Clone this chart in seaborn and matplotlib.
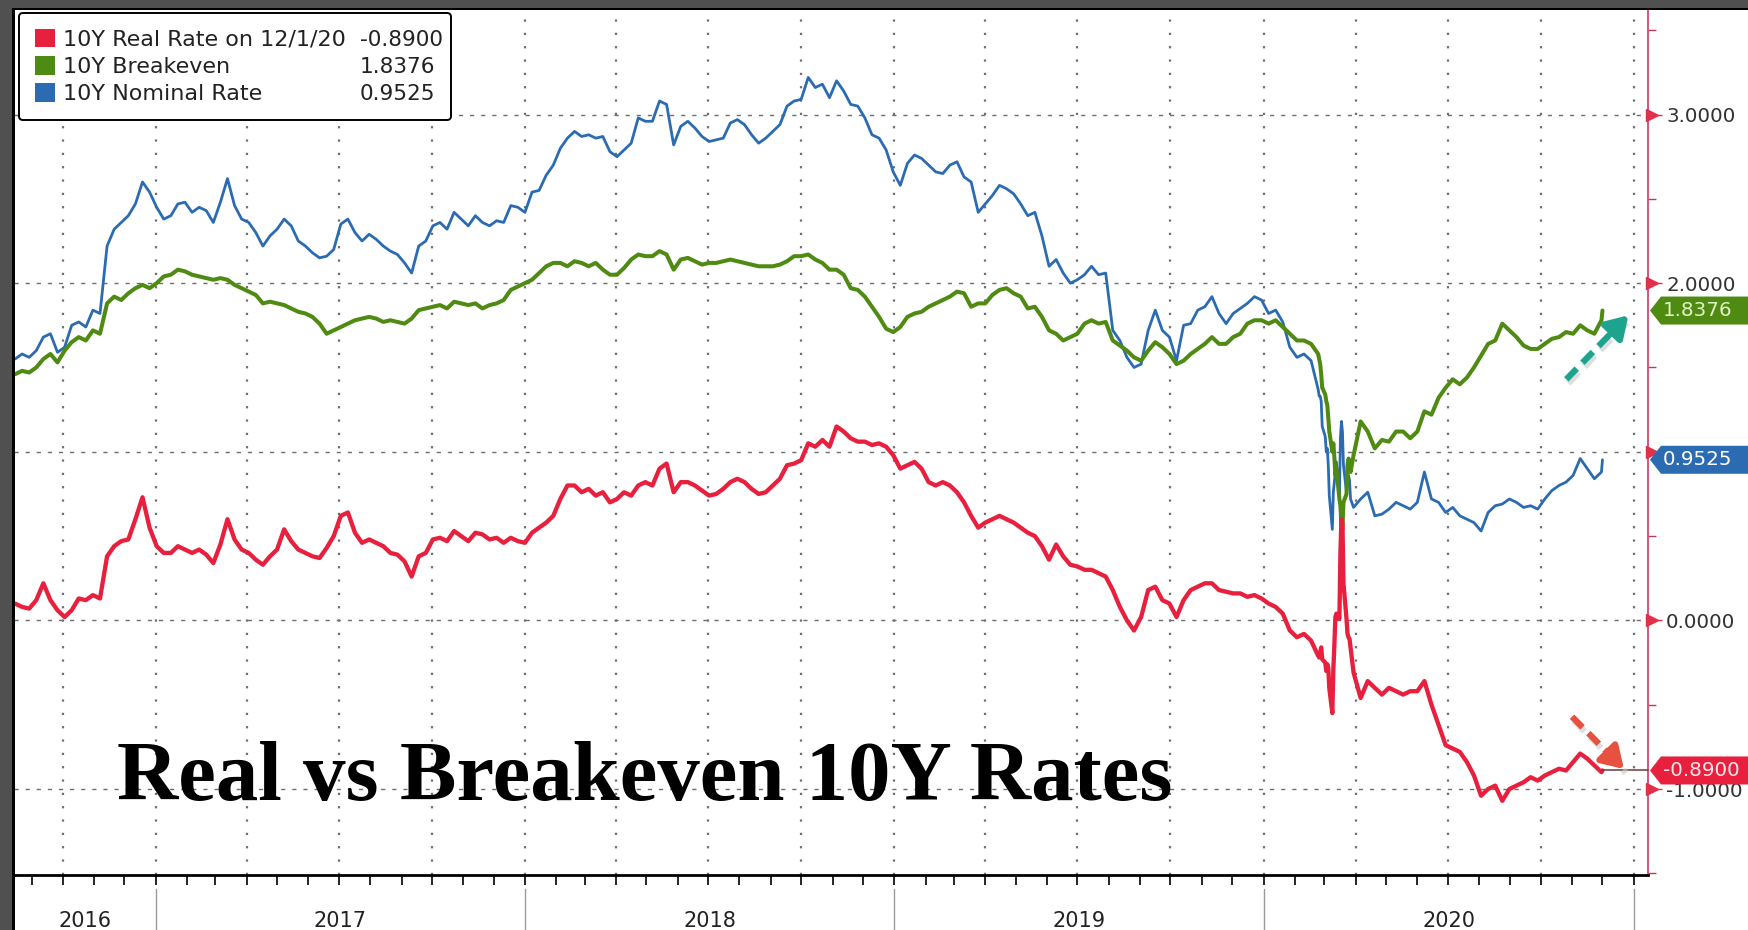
import numpy as np
import pandas as pd
import matplotlib
matplotlib.use("Agg")
import matplotlib.pyplot as plt
import matplotlib.dates as mdates
import matplotlib.transforms as mtransforms
from matplotlib.ticker import NullFormatter
from matplotlib.patches import Patch, Rectangle, Polygon
import seaborn as sns

# ---------------- data ----------------
series_names = ["10Y Real Rate on 12/1/20", "10Y Breakeven", "10Y Nominal Rate"]
series_last = ["-0.8900", "1.8376", "0.9525"]
year_labels = ["2016", "2017", "2018", "2019", "2020"]
ytick_values = [-1, 0, 1, 2, 3]
ytick_labels = ["-1.0000", "0.0000", "", "2.0000", "3.0000"]

# weekly (Mondays) 2016-08-15 .. 2020-02-17
nominal_pre = [
    1.55, 1.58, 1.56,
    1.60, 1.68, 1.70, 1.59,
    1.62, 1.75, 1.77, 1.74, 1.84,
    1.82, 2.22, 2.32, 2.36,
    2.40, 2.47, 2.60, 2.54,
    2.45, 2.38, 2.40, 2.47, 2.48,
    2.42, 2.45, 2.43, 2.36,
    2.48, 2.62, 2.46, 2.38,
    2.36, 2.30, 2.22, 2.28,
    2.32, 2.38, 2.34, 2.25, 2.22,
    2.18, 2.15, 2.16, 2.20,
    2.35, 2.38, 2.30, 2.25, 2.29,
    2.26, 2.22, 2.19, 2.17,
    2.12, 2.06, 2.22, 2.25,
    2.34, 2.36, 2.32, 2.42, 2.38,
    2.34, 2.40, 2.36, 2.34,
    2.37, 2.36, 2.46, 2.45,
    2.42, 2.54, 2.55, 2.64, 2.70,
    2.80, 2.86, 2.90, 2.87,
    2.88, 2.86, 2.87, 2.78,
    2.75, 2.79, 2.83, 2.98, 2.96,
    2.96, 3.08, 3.06, 2.82,
    2.93, 2.96, 2.92, 2.87,
    2.84, 2.85, 2.86, 2.95, 2.97,
    2.94, 2.88, 2.83, 2.86,
    2.90, 2.94, 3.05, 3.08,
    3.09, 3.22, 3.16, 3.18, 3.10,
    3.20, 3.14, 3.06, 3.05,
    2.98, 2.88, 2.86, 2.79, 2.66,
    2.58, 2.71, 2.76, 2.74,
    2.70, 2.66, 2.65, 2.70,
    2.72, 2.63, 2.60, 2.42,
    2.47, 2.52, 2.58, 2.56, 2.53,
    2.47, 2.40, 2.42, 2.28,
    2.10, 2.14, 2.06, 2.00,
    2.02, 2.05, 2.10, 2.05, 2.06,
    1.72, 1.66, 1.56, 1.50,
    1.52, 1.72, 1.84, 1.72, 1.68,
    1.54, 1.75, 1.76, 1.84,
    1.86, 1.92, 1.82, 1.76,
    1.82, 1.85, 1.88, 1.92, 1.90,
    1.82, 1.84, 1.77, 1.62,
    1.56, 1.58, 1.54,
]
breakeven_pre = [
    1.46, 1.48, 1.47,
    1.50, 1.55, 1.58, 1.53,
    1.60, 1.65, 1.68, 1.66, 1.72,
    1.70, 1.88, 1.92, 1.90,
    1.94, 1.97, 1.99, 1.97,
    2.00, 2.04, 2.05, 2.08, 2.07,
    2.05, 2.04, 2.03, 2.02,
    2.03, 2.02, 1.99, 1.97,
    1.95, 1.93, 1.88, 1.89,
    1.88, 1.87, 1.85, 1.83, 1.82,
    1.80, 1.76, 1.70, 1.72,
    1.74, 1.76, 1.78, 1.79, 1.80,
    1.79, 1.77, 1.78, 1.77,
    1.76, 1.79, 1.84, 1.85,
    1.86, 1.87, 1.85, 1.89, 1.88,
    1.87, 1.88, 1.85, 1.87,
    1.88, 1.90, 1.96, 1.98,
    2.00, 2.02, 2.06, 2.10, 2.12,
    2.12, 2.10, 2.13, 2.12,
    2.10, 2.12, 2.08, 2.05,
    2.05, 2.09, 2.14, 2.17, 2.16,
    2.16, 2.19, 2.17, 2.08,
    2.14, 2.15, 2.13, 2.11,
    2.12, 2.12, 2.13, 2.14, 2.13,
    2.12, 2.11, 2.10, 2.10,
    2.10, 2.11, 2.13, 2.16,
    2.16, 2.17, 2.14, 2.12, 2.08,
    2.08, 2.05, 1.97, 1.96,
    1.92, 1.86, 1.80, 1.73, 1.71,
    1.74, 1.80, 1.82, 1.83,
    1.86, 1.88, 1.90, 1.92,
    1.95, 1.94, 1.86, 1.88,
    1.88, 1.93, 1.96, 1.97, 1.94,
    1.92, 1.85, 1.86, 1.80,
    1.72, 1.70, 1.66, 1.68,
    1.70, 1.76, 1.78, 1.76, 1.77,
    1.66, 1.63, 1.60, 1.56,
    1.54, 1.60, 1.65, 1.62, 1.58,
    1.52, 1.54, 1.58, 1.61,
    1.64, 1.68, 1.64, 1.64,
    1.68, 1.70, 1.76, 1.78, 1.78,
    1.76, 1.78, 1.74, 1.70,
    1.66, 1.66, 1.64,
]
real_pre = [
    0.10, 0.08, 0.07,
    0.12, 0.22, 0.12, 0.06,
    0.02, 0.06, 0.13, 0.12, 0.15,
    0.13, 0.38, 0.44, 0.47,
    0.48, 0.60, 0.73, 0.55,
    0.44, 0.40, 0.40, 0.44, 0.42,
    0.40, 0.42, 0.39, 0.34,
    0.45, 0.60, 0.48, 0.42,
    0.40, 0.36, 0.33, 0.38,
    0.42, 0.54, 0.47, 0.42, 0.40,
    0.38, 0.37, 0.43, 0.50,
    0.62, 0.64, 0.52, 0.46, 0.48,
    0.46, 0.44, 0.40, 0.39,
    0.35, 0.26, 0.38, 0.40,
    0.48, 0.49, 0.47, 0.53, 0.50,
    0.47, 0.52, 0.51, 0.48,
    0.49, 0.46, 0.49, 0.47,
    0.46, 0.52, 0.55, 0.58, 0.62,
    0.72, 0.80, 0.80, 0.76,
    0.78, 0.74, 0.76, 0.70,
    0.72, 0.76, 0.74, 0.80, 0.82,
    0.80, 0.90, 0.93, 0.76,
    0.82, 0.82, 0.80, 0.77,
    0.74, 0.75, 0.78, 0.82, 0.84,
    0.82, 0.78, 0.75, 0.76,
    0.80, 0.84, 0.92, 0.93,
    0.95, 1.05, 1.03, 1.07, 1.03,
    1.15, 1.12, 1.08, 1.06,
    1.06, 1.04, 1.05, 1.03, 0.98,
    0.90, 0.92, 0.94, 0.90,
    0.82, 0.80, 0.82, 0.80,
    0.76, 0.70, 0.62, 0.55,
    0.58, 0.60, 0.62, 0.60, 0.58,
    0.55, 0.52, 0.50, 0.44,
    0.36, 0.45, 0.38, 0.33,
    0.32, 0.30, 0.30, 0.28, 0.26,
    0.18, 0.08, 0.00, -0.06,
    0.02, 0.18, 0.20, 0.12, 0.10,
    0.02, 0.12, 0.18, 0.20,
    0.22, 0.22, 0.18, 0.17,
    0.16, 0.16, 0.14, 0.15, 0.13,
    0.10, 0.08, 0.04, -0.06,
    -0.10, -0.08, -0.12,
]

# business days 2020-02-24 .. 2020-03-27
nominal_covid = [1.37, 1.33, 1.33, 1.30, 1.15, 1.09, 1.00, 1.02, 0.92, 0.74,
                 0.54, 0.76, 0.82, 0.88, 0.94, 0.73, 1.08, 1.18, 1.12, 0.92,
                 0.76, 0.84, 0.86, 0.83, 0.72]
breakeven_covid = [1.58, 1.55, 1.52, 1.46, 1.38, 1.34, 1.30, 1.28, 1.20, 1.12,
                   1.00, 1.05, 0.97, 0.86, 0.90, 0.72, 0.68, 0.56, 0.54, 0.70,
                   0.75, 0.92, 0.96, 0.94, 0.88]
real_covid = [-0.21, -0.22, -0.19, -0.16, -0.23, -0.25, -0.30, -0.26, -0.28, -0.40,
              -0.55, -0.29, -0.15, 0.02, 0.04, 0.01, 0.40, 0.60, 0.58, 0.22,
              0.01, -0.08, -0.10, -0.11, -0.16]

# weekly (Mondays) 2020-03-30 .. 2020-11-30, then 2020-12-01
nominal_post = [0.67, 0.72, 0.76, 0.62, 0.63, 0.66, 0.70, 0.68, 0.66,
                0.70, 0.88, 0.72, 0.70, 0.64, 0.67, 0.62, 0.60, 0.58,
                0.53, 0.64, 0.68, 0.69, 0.72, 0.70, 0.67, 0.68, 0.66,
                0.72, 0.77, 0.80, 0.82, 0.86, 0.96, 0.90, 0.84, 0.88, 0.9525]
breakeven_post = [0.98, 1.18, 1.12, 1.02, 1.07, 1.06, 1.12, 1.12, 1.08,
                  1.12, 1.24, 1.22, 1.32, 1.38, 1.43, 1.40, 1.44, 1.50,
                  1.57, 1.64, 1.66, 1.76, 1.72, 1.68, 1.63, 1.61, 1.61,
                  1.64, 1.67, 1.68, 1.71, 1.70, 1.75, 1.72, 1.70, 1.78, 1.8376]
real_post = [-0.31, -0.46, -0.36, -0.40, -0.44, -0.40, -0.42, -0.44, -0.42,
             -0.42, -0.36, -0.50, -0.62, -0.74, -0.76, -0.78, -0.84, -0.92,
             -1.04, -1.00, -0.98, -1.07, -1.00, -0.98, -0.96, -0.93, -0.95,
             -0.92, -0.90, -0.88, -0.89, -0.84, -0.79, -0.82, -0.86, -0.90, -0.89]


def make_dates(pre, covid, post):
    d1 = pd.date_range("2016-08-15", periods=len(pre), freq="7D")
    d2 = pd.bdate_range("2020-02-24", periods=len(covid))
    d3 = pd.date_range("2020-03-30", periods=len(post) - 1, freq="7D").append(
        pd.DatetimeIndex(["2020-12-01"]))
    return d1.append(d2).append(d3)


nominal = np.concatenate([nominal_pre, nominal_covid, nominal_post])
breakeven = np.concatenate([breakeven_pre, breakeven_covid, breakeven_post])
real = np.concatenate([real_pre, real_covid, real_post])
d_nom = make_dates(nominal_pre, nominal_covid, nominal_post)
d_be = make_dates(breakeven_pre, breakeven_covid, breakeven_post)
d_real = make_dates(real_pre, real_covid, real_post)

RED = "#e8203e"
GREEN = "#4f8b12"
BLUE = "#2b6bb2"
colors = [RED, GREEN, BLUE]

# ---------------- figure ----------------
sns.set_style("white")
plt.rcParams["font.family"] = ["DejaVu Sans"]

W, H = 1748, 930
fig = plt.figure(figsize=(W / 100, H / 100), dpi=100)
fig.patch.set_facecolor("white")

AX_L, AX_R, AX_T, AX_B = 14, 1648, 10, 875
ax = fig.add_axes([AX_L / W, 1 - AX_B / H, (AX_R - AX_L) / W, (AX_B - AX_T) / H])
ax.set_facecolor("white")

# dark screenshot frame (left and top)
fig.add_artist(Rectangle((0, 0), 12 / W, 1, transform=fig.transFigure,
                         facecolor="#505050", edgecolor="none", zorder=20))
fig.add_artist(Rectangle((0, 1 - 8 / H), 1, 8 / H, transform=fig.transFigure,
                         facecolor="#505050", edgecolor="none", zorder=20))
fig.add_artist(Rectangle((12 / W, 0), 2.5 / W, 1 - 8 / H, transform=fig.transFigure,
                         facecolor="black", edgecolor="none", zorder=21))
fig.add_artist(Rectangle((12 / W, 1 - 10.5 / H), 1, 2.5 / H, transform=fig.transFigure,
                         facecolor="black", edgecolor="none", zorder=21))

# lines
sns.lineplot(x=d_nom, y=nominal, ax=ax, color=BLUE, linewidth=2.0, estimator=None, zorder=3)
sns.lineplot(x=d_be, y=breakeven, ax=ax, color=GREEN, linewidth=2.9, estimator=None, zorder=3.1)
sns.lineplot(x=d_real, y=real, ax=ax, color=RED, linewidth=3.1, estimator=None, zorder=3.2)

xmin, xmax = pd.Timestamp("2016-08-14"), pd.Timestamp("2021-01-15")
ax.set_xlim(xmin, xmax)
ax.set_ylim(-1.51, 3.62)
ax.set_xlabel("")
ax.set_ylabel("")

# grid
for yv in ytick_values:
    ax.axhline(yv, color="#6e6e6e", lw=1.0, ls=(0, (3, 5)), zorder=0.5)
for q in pd.date_range("2016-10-01", "2021-01-01", freq="QS"):
    ax.axvline(q, color="#6e6e6e", lw=1.6, ls=(0, (1, 5)), zorder=0.5)

# spines
ax.spines["top"].set_visible(False)
ax.spines["left"].set_visible(False)
ax.spines["bottom"].set_color("black")
ax.spines["bottom"].set_linewidth(2.0)
ax.spines["right"].set_color("#d24a6a")
ax.spines["right"].set_linewidth(1.3)

# y axis on the right
ax.yaxis.tick_right()
ax.set_yticks(ytick_values)
ax.set_yticklabels(ytick_labels)
ax.set_yticks([v + 0.5 for v in range(-2, 4) if -1.51 < v + 0.5 < 3.62], minor=True)
ax.tick_params(axis="y", which="major", length=10, width=1.0, color="#e0304a",
               pad=3, labelsize=14.3, labelcolor="#333333", left=False, right=True)
ax.tick_params(axis="y", which="minor", length=6, width=1.0, color="#b04060",
               left=False, right=True)
ytrans = mtransforms.blended_transform_factory(ax.transAxes, ax.transData)
tri_trans = mtransforms.offset_copy(ytrans, fig=fig, x=4, y=0, units="dots")
ax.plot([1] * len(ytick_values), ytick_values, transform=tri_trans, ls="none",
        marker=">", ms=8, color="#e0304a", clip_on=False, zorder=5)

# x axis: month ticks, year labels and separators
ax.xaxis.set_major_locator(mdates.MonthLocator())
ax.xaxis.set_major_formatter(NullFormatter())
ax.tick_params(axis="x", which="major", length=7, width=1.2, color="black",
               direction="out", bottom=True)
xtrans = mtransforms.blended_transform_factory(ax.transData, ax.transAxes)
for lab in year_labels:
    y0 = max(pd.Timestamp(f"{lab}-01-01"), xmin)
    y1 = min(pd.Timestamp(f"{int(lab) + 1}-01-01"), xmax)
    mid = y0 + (y1 - y0) / 2
    ax.text(mid, -(921 - AX_B) / (AX_B - AX_T), lab, transform=xtrans, ha="center",
            va="center", fontsize=15, family=["Liberation Sans Narrow", "DejaVu Sans"],
            color="#222222")
for yr in range(2017, 2022):
    d = pd.Timestamp(f"{yr}-01-01")
    ax.plot([d, d], [-0.016, -0.07], transform=xtrans, color="#9a9a9a", lw=1.0,
            clip_on=False)

# title
ax.text(0.063, 0.0867, "Real vs Breakeven 10Y Rates", transform=ax.transAxes,
        fontsize=61, fontweight="bold", family=["Liberation Serif", "DejaVu Serif"],
        color="black", ha="left", va="baseline", zorder=6)

# legend
LEG_FS = 16.0
handles = [Patch(facecolor=c, edgecolor="none") for c in colors]
lx0 = (19 - AX_L) / (AX_R - AX_L)
lx1 = (451 - AX_L) / (AX_R - AX_L)
ly1 = (AX_B - 13) / (AX_B - AX_T)
ly0 = (AX_B - 123) / (AX_B - AX_T)
leg = ax.legend(handles, series_names, loc="upper left",
                bbox_to_anchor=(lx0, ly0, lx1 - lx0, ly1 - ly0), mode="expand",
                borderaxespad=0, fontsize=LEG_FS, handlelength=0.9, handleheight=0.9,
                handletextpad=0.35, labelspacing=0.28, borderpad=0.72,
                frameon=True, fancybox=True, framealpha=1, edgecolor="black")
leg.get_frame().set_linewidth(1.4)
leg.set_zorder(8)
for t in leg.get_texts():
    t.set_color("#222222")

fig.canvas.draw()
for t, val in zip(leg.get_texts(), series_last):
    bb = t.get_window_extent()
    yc = (bb.y0 + bb.y1) / 2
    fig.text(360 / W, yc / H, val, ha="left", va="center", fontsize=15.6,
             color="#222222", zorder=30)

# value tags on the right axis
tag_vals = [real[-1], breakeven[-1], nominal[-1]]
tag_txt_colors = ["#ffe6ea", "#dff2c0", "#ffffff"]
for val, txt, c, tc in zip(tag_vals, series_last, colors, tag_txt_colors):
    yc = ax.transData.transform((0, val))[1]
    hh = 14
    xp, xb, xr = 1650, 1661, W
    pts = [(xp, yc), (xb, yc + hh), (xr, yc + hh), (xr, yc - hh), (xb, yc - hh)]
    pts = [(px / W, py / H) for px, py in pts]
    fig.add_artist(Polygon(pts, closed=True, transform=fig.transFigure,
                           facecolor=c, edgecolor="none", zorder=25))
    fig.text(1663 / W, yc / H, txt, ha="left", va="center", fontsize=14.3,
             color=tc, zorder=26)

# leader line from the last red point to its tag
ax.plot([d_real[-1], xmax], [real[-1], real[-1]], color="#6a3a3a", lw=1.1,
        clip_on=False, zorder=4)


# dashed arrows
def dashed_arrow(p0, p1, color):
    frac = 0.7
    pm = (p0[0] + (p1[0] - p0[0]) * frac, p0[1] + (p1[1] - p0[1]) * frac)
    sh = mtransforms.offset_copy(ax.transAxes, fig=fig, x=2, y=-4, units="dots")
    ax.plot([p0[0], p1[0]], [p0[1], p1[1]], transform=sh, color="#c8c8c8",
            lw=4.5, ls=(0, (2.4, 1.3)), alpha=0.6, zorder=6)
    ax.plot([p0[0], pm[0]], [p0[1], pm[1]], transform=ax.transAxes, color=color,
            lw=4.5, ls=(0, (2.4, 1.3)), zorder=7, dash_capstyle="butt")
    ax.annotate("", xy=p1, xytext=pm, xycoords="axes fraction",
                textcoords="axes fraction",
                arrowprops=dict(arrowstyle="-|>,head_length=0.8,head_width=0.5",
                                lw=4.5, color=color, mutation_scale=16,
                                shrinkA=0, shrinkB=0), zorder=7)


dashed_arrow((0.950, 0.573), (0.988, 0.647), "#1ea48e")
dashed_arrow((0.9535, 0.183), (0.9853, 0.1225), "#e85040")

fig.savefig("out.png", dpi=100, facecolor="white")
